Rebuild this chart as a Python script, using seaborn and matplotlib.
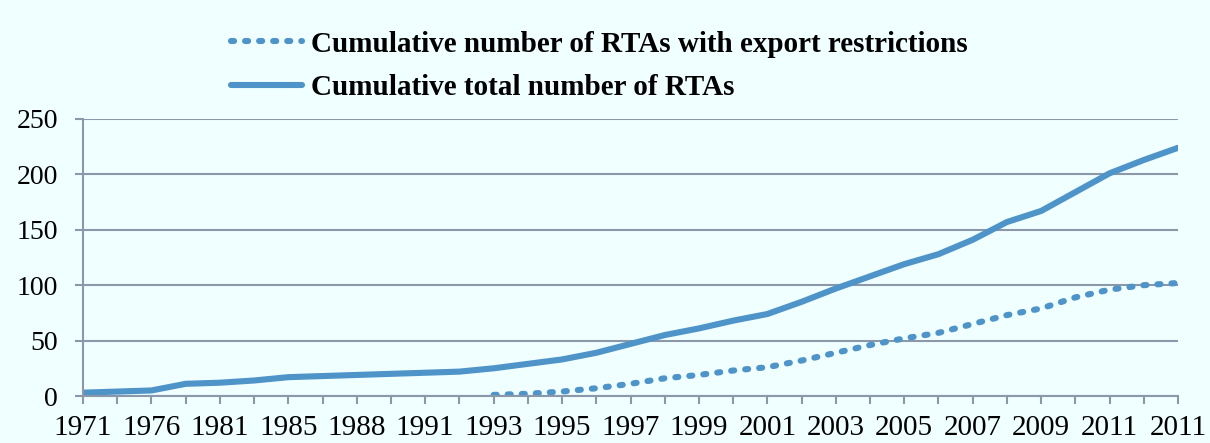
# cumulative RTAs chart

import numpy as np
import pandas as pd
import matplotlib.pyplot as plt
import seaborn as sns

# category labels (only every other one is shown on the axis)
year_labels = ['1971', '1973', '1976', '1979', '1981', '1983', '1985', '1987',
               '1988', '1990', '1991', '1992', '1993', '1994', '1995', '1996',
               '1997', '1998', '1999', '2000', '2001', '2002', '2003', '2004',
               '2005', '2006', '2007', '2008', '2009', '2010', '2011', '2011',
               '2011']

total_rtas = [3, 4, 5, 11, 12, 14, 17, 18, 19, 20, 21, 22, 25, 29, 33, 39,
              47, 55, 61, 68, 74, 85, 97, 108, 119, 128, 141, 157, 167, 184,
              201, 213, 224]

export_rtas = [np.nan] * 12 + [1, 2, 4, 7, 11, 16, 19, 23, 26, 32, 39, 46,
                               52, 57, 65, 73, 79, 89, 96, 100, 102]

y_ticks = [0, 50, 100, 150, 200, 250]

df = pd.DataFrame({'pos': range(len(year_labels)),
                   'total': total_rtas,
                   'export': export_rtas})

sns.set_theme(style='white')
plt.rcParams['font.family'] = ['Liberation Serif', 'DejaVu Serif']
plt.rcParams['text.color'] = 'black'
plt.rcParams['xtick.color'] = 'black'
plt.rcParams['ytick.color'] = 'black'

bg = '#F0FFFF'
line_col = '#4E94C8'
grid_col = '#8C98AA'

fig = plt.figure(figsize=(12.1, 4.43), dpi=100, facecolor=bg)
ax = fig.add_axes([83 / 1210, 1 - 396 / 443, 1095 / 1210, 277 / 443])
ax.set_facecolor(bg)

sns.lineplot(data=df, x='pos', y='export', ax=ax, color=line_col, lw=4.4,
             linestyle=(0, (0.5, 1.8)), dash_capstyle='round',
             label='Cumulative number of RTAs with export restrictions')
sns.lineplot(data=df, x='pos', y='total', ax=ax, color=line_col, lw=4.4,
             solid_capstyle='round',
             label='Cumulative total number of RTAs')

ax.set_xlim(0, len(year_labels) - 1)
ax.set_ylim(0, 250)
ax.set_yticks(y_ticks)
ax.set_xticks(range(len(year_labels)))
ax.set_xticklabels([lab if i % 2 == 0 else '' for i, lab in enumerate(year_labels)])
ax.set_xlabel('')
ax.set_ylabel('')

ax.grid(axis='y', color=grid_col, lw=1.5)
ax.set_axisbelow(True)
for s in ['top', 'right']:
    ax.spines[s].set_visible(False)
for s in ['left', 'bottom']:
    ax.spines[s].set_color(grid_col)
    ax.spines[s].set_linewidth(1.5)

ax.tick_params(axis='y', direction='out', length=6, width=1.5, color=grid_col,
               labelcolor='black', labelsize=20, pad=12, left=True)
ax.tick_params(axis='x', direction='out', length=6, width=1.5, color=grid_col,
               labelcolor='black', labelsize=21, pad=8, bottom=True)

leg = ax.legend(loc='center left', bbox_to_anchor=(231 / 1210, 1 - 66 / 443),
                bbox_transform=fig.transFigure, frameon=False,
                prop={'weight': 'bold', 'size': 21}, handlelength=2.45,
                handletextpad=0.3, labelspacing=0.58, borderpad=0,
                borderaxespad=0)
for t in leg.get_texts():
    t.set_color('black')

plt.savefig('out.png', dpi=100, facecolor=bg)
